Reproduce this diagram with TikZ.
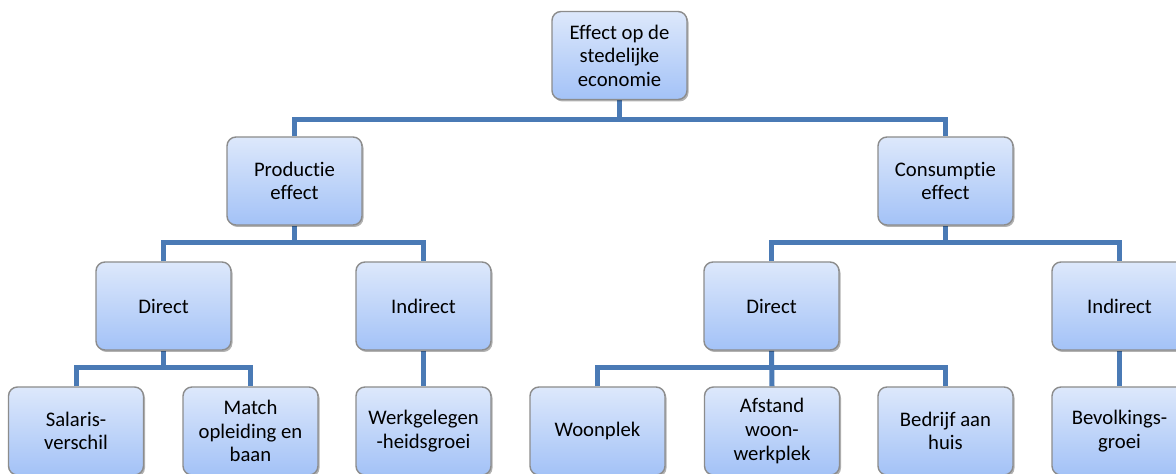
\documentclass[tikz,border=0pt]{standalone}
\usepackage{fontspec}
\setmainfont{Carlito}[Ligatures=NoCommon]
\usetikzlibrary{shadows,backgrounds}
\definecolor{conncol}{RGB}{74,122,181}
\definecolor{boxtop}{RGB}{221,232,251}
\definecolor{boxbot}{RGB}{163,194,247}
\definecolor{boxline}{RGB}{140,140,140}
\tikzset{
  box/.style={draw=boxline, line width=1.4pt, rounded corners=9pt,
    top color=boxtop, bottom color=boxbot,
    minimum width=135pt, minimum height=88pt, inner sep=0pt,
    align=center, font=\fontsize{20.7}{23.6}\selectfont,
    drop shadow={shadow xshift=1.5pt, shadow yshift=-2pt, opacity=0.3, fill=black}},
  conn/.style={draw=conncol, line width=5pt, line join=miter}
}
\begin{document}
\begin{tikzpicture}[x=1pt,y=1pt]
\useasboundingbox (0,0) rectangle (1176,474);
\clip (0,0) rectangle (1176,474);
% level 1
\node[box] (top) at (619.5,418.5) {Effect op de\\stedelijke\\economie};
% level 2
\node[box] (prod) at (294.5,293) {Productie\\effect};
\node[box] (cons) at (945.5,293) {Consumptie\\effect};
% level 3
\node[box] (dirL) at (163.5,168) {Direct};
\node[box] (indL) at (423.5,168) {Indirect};
\node[box] (dirR) at (771.5,168) {Direct};
\node[box] (indR) at (1119.5,168) {Indirect};
% level 4
\node[box] (sal) at (76,43) {Salaris-\\verschil};
\node[box] (match) at (250.5,43) {Match\\opleiding en\\baan};
\node[box] (werk) at (423.5,43) {Werkgelegen\\-heidsgroei};
\node[box] (woon) at (597.5,43) {Woonplek};
\node[box] (afst) at (772,43) {Afstand\\woon-\\werkplek};
\node[box] (bedr) at (945.5,43) {Bedrijf aan\\huis};
\node[box] (bevo) at (1119.5,43) {Bevolkings-\\groei};
% junctions
\coordinate (j1) at (619.5,354);
\coordinate (j2) at (294.5,231);
\coordinate (j3) at (945.5,231);
\coordinate (j4) at (163.5,106);
\coordinate (j5) at (771.5,106);
\begin{pgfonlayer}{background}
\fill[white] (0,0) rectangle (1176,474);
\draw[conn] (top.south) -- (j1);
\draw[conn] (prod.north) |- (j1) -| (cons.north);
\draw[conn] (prod.south) -- (j2);
\draw[conn] (dirL.north) |- (j2) -| (indL.north);
\draw[conn] (cons.south) -- (j3);
\draw[conn] (dirR.north) |- (j3) -| (indR.north);
\draw[conn] (dirL.south) -- (j4);
\draw[conn] (sal.north) |- (j4) -| (match.north);
\draw[conn] (indL.south) -- (werk.north);
\draw[conn] (dirR.south) -- (afst.north);
\draw[conn] (woon.north) |- (j5) -| (bedr.north);
\draw[conn] (indR.south) -- (bevo.north);
\end{pgfonlayer}
\end{tikzpicture}
\end{document}
